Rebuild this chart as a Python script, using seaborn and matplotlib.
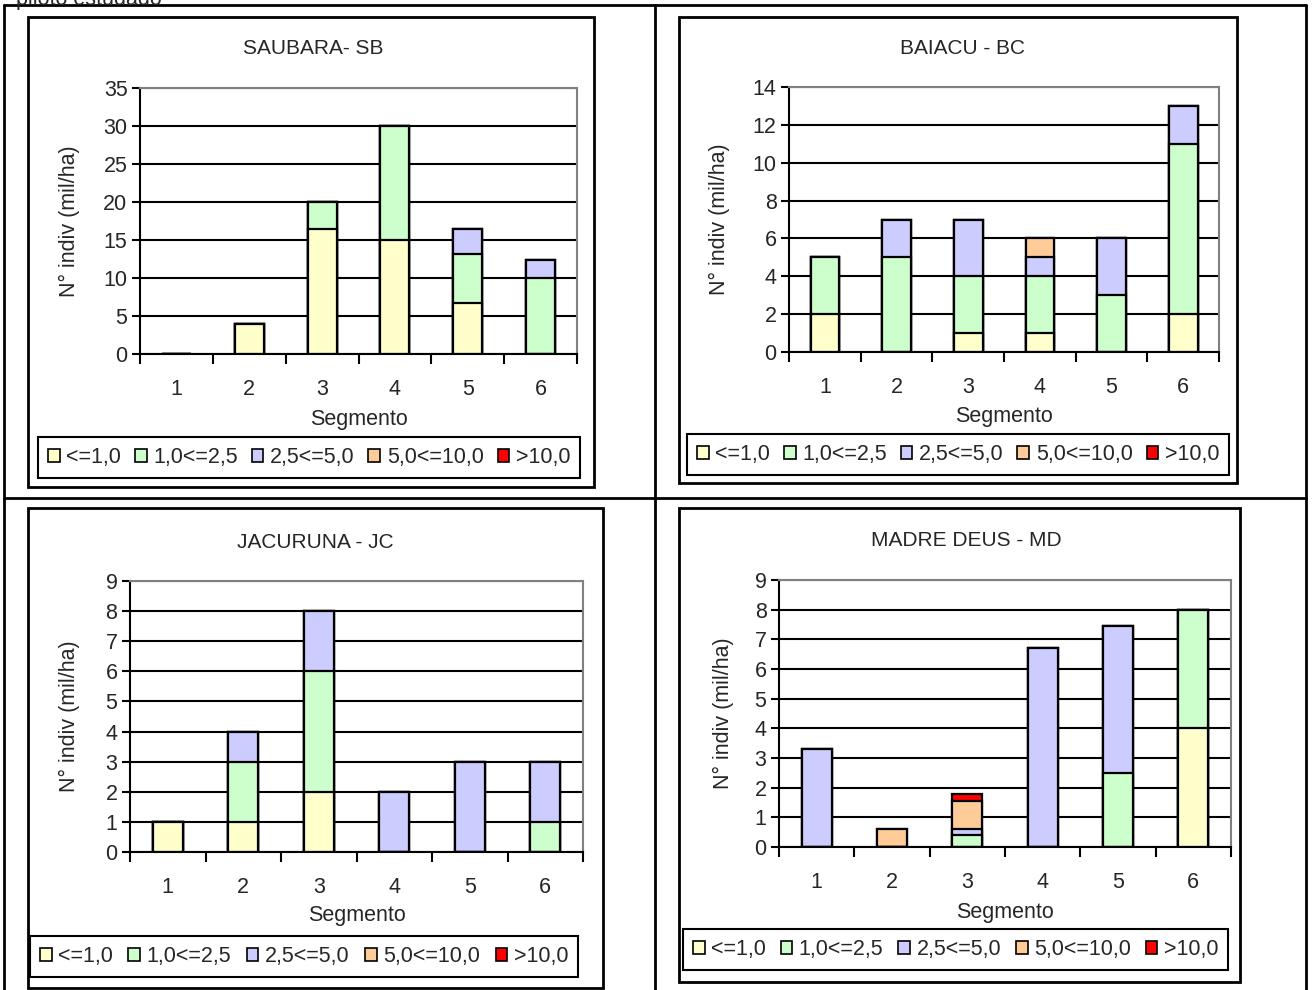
import numpy as np
import pandas as pd
import matplotlib
matplotlib.use("Agg")
import matplotlib.pyplot as plt
from matplotlib.patches import Patch, Rectangle
from matplotlib.lines import Line2D
import seaborn as sns

# categories and classes
segments = ["1", "2", "3", "4", "5", "6"]
classes = ["<=1,0", "1,0<=2,5", "2,5<=5,0", "5,0<=10,0", ">10,0"]
class_colors = ["#FFFFCC", "#CCFFCC", "#CCCCFF", "#FFCC99", "#FF0000"]

# SAUBARA - SB (mil/ha per class, segments 1..6)
sb_le1 = [0, 4, 16.4, 15, 6.7, 0]
sb_1_25 = [0, 0, 3.6, 15, 6.5, 10]
sb_25_5 = [0, 0, 0, 0, 3.3, 2.4]
sb_5_10 = [0, 0, 0, 0, 0, 0]
sb_gt10 = [0, 0, 0, 0, 0, 0]

# BAIACU - BC
bc_le1 = [2, 0, 1, 1, 0, 2]
bc_1_25 = [3, 5, 3, 3, 3, 9]
bc_25_5 = [0, 2, 3, 1, 3, 2]
bc_5_10 = [0, 0, 0, 1, 0, 0]
bc_gt10 = [0, 0, 0, 0, 0, 0]

# JACURUNA - JC
jc_le1 = [1, 1, 2, 0, 0, 0]
jc_1_25 = [0, 2, 4, 0, 0, 1]
jc_25_5 = [0, 1, 2, 2, 3, 2]
jc_5_10 = [0, 0, 0, 0, 0, 0]
jc_gt10 = [0, 0, 0, 0, 0, 0]

# MADRE DEUS - MD
md_le1 = [0, 0, 0, 0, 0, 4]
md_1_25 = [0, 0, 0.4, 0, 2.5, 4]
md_25_5 = [3.3, 0, 0.2, 6.7, 4.95, 0]
md_5_10 = [0, 0.62, 0.95, 0, 0, 0]
md_gt10 = [0, 0, 0.22, 0, 0, 0]

panels = [
    ("SAUBARA- SB", [sb_le1, sb_1_25, sb_25_5, sb_5_10, sb_gt10], 35, 5),
    ("BAIACU - BC", [bc_le1, bc_1_25, bc_25_5, bc_5_10, bc_gt10], 14, 2),
    ("JACURUNA - JC", [jc_le1, jc_1_25, jc_25_5, jc_5_10, jc_gt10], 9, 1),
    ("MADRE DEUS - MD", [md_le1, md_1_25, md_25_5, md_5_10, md_gt10], 9, 1),
]

sns.set_style("white")
plt.rcParams["font.family"] = ["Liberation Sans", "DejaVu Sans"]

FS = 15.5

W, H = 1313, 990
fig = plt.figure(figsize=(W / 100, H / 100), dpi=100)


def fx(x):
    return x / W


def fy(y):
    return 1 - y / H


# pixel layout: plot area (l, t, r, b), chart frame, title pos, legend box, label offsets
layout = [
    dict(plot=(140, 88, 577, 354), frame=(28, 17, 594, 487), title=(313, 48),
         legend=(38, 437, 580, 478), ylab=-0.137, xlab=-0.205),
    dict(plot=(789, 87, 1219, 352), frame=(679, 17, 1237, 483), title=(962, 48),
         legend=(687, 435, 1229, 474), ylab=-0.137, xlab=-0.205),
    dict(plot=(130, 581, 583, 852), frame=(28, 508, 603, 988), title=(315, 542),
         legend=(30, 936, 578, 977), ylab=-0.11, xlab=-0.195),
    dict(plot=(779, 580, 1231, 847), frame=(679, 508, 1240, 982), title=(966, 540),
         legend=(683, 929, 1228, 970), ylab=-0.10, xlab=-0.205),
]

handles = [Patch(facecolor=c, edgecolor="black", linewidth=1.2) for c in class_colors]

for (title, series, ymax, step), lay in zip(panels, layout):
    l, t, r, b = lay["plot"]
    ax = fig.add_axes([fx(l), fy(b), fx(r - l), (b - t) / H])

    df = pd.DataFrame({"segmento": segments})
    for name, vals in zip(classes, series):
        df[name] = vals
    cum = df[classes].cumsum(axis=1)

    # stacked bars: draw cumulative totals from top class down
    for name, color in zip(classes[::-1], class_colors[::-1]):
        sns.barplot(x=df["segmento"], y=cum[name], order=segments, color=color,
                    saturation=1, width=0.4, edgecolor="black", linewidth=1.6,
                    errorbar=None, ax=ax)

    ax.set_xlim(-0.5, 5.5)
    ax.set_ylim(0, ymax)
    ax.set_yticks(np.arange(0, ymax + step / 2, step))
    ax.set_axisbelow(True)
    ax.yaxis.grid(True, color="black", linewidth=1.5)
    ax.xaxis.grid(False)

    ax.set_xticks(np.arange(-0.5, 6, 1), labels=[""] * 7)
    ax.set_xticks(range(6), labels=segments, minor=True)
    ax.tick_params(axis="x", which="major", direction="out", length=7, width=1.5,
                   color="black", bottom=True)
    ax.tick_params(axis="x", which="minor", length=0, pad=18, labelsize=FS)
    ax.tick_params(axis="y", direction="out", length=6, width=1.5, color="black",
                   left=True, labelsize=FS, pad=3)

    for side in ["left", "bottom"]:
        ax.spines[side].set_color("black")
        ax.spines[side].set_linewidth(1.5)
    for side in ["top", "right"]:
        ax.spines[side].set_visible(True)
        ax.spines[side].set_color("#808080")
        ax.spines[side].set_linewidth(1.5)

    ax.set_ylabel("N° indiv (mil/ha)", fontsize=FS)
    ax.set_xlabel("Segmento", fontsize=FS, va="top")
    ax.yaxis.set_label_coords(lay["ylab"], 0.5)
    ax.xaxis.set_label_coords(0.5, lay["xlab"])

    tx, ty = lay["title"]
    fig.text(fx(tx), fy(ty), title, ha="center", va="center", fontsize=15)

    fl, ft, fr, fb = lay["frame"]
    fig.add_artist(Rectangle((fx(fl), fy(fb)), fx(fr - fl), (fb - ft) / H,
                             transform=fig.transFigure, fill=False,
                             edgecolor="black", linewidth=2))

    ll, lt, lr, lb = lay["legend"]
    leg = ax.legend(handles, classes, loc="center", ncol=5, mode="expand",
                    bbox_to_anchor=(fx(ll), fy(lb), fx(lr - ll), (lb - lt) / H),
                    bbox_transform=fig.transFigure, frameon=True, fancybox=False,
                    edgecolor="black", framealpha=1, fontsize=FS,
                    handlelength=0.55, handleheight=0.55, handletextpad=0.3,
                    columnspacing=0.35, borderpad=0.45, borderaxespad=0)
    leg.get_frame().set_linewidth(1.5)

# table lines around the four charts
for x0, y0, x1, y1 in [(4, 5, 1306, 5), (4, 498, 1306, 498), (4, 5, 4, 990),
                       (655, 5, 655, 990), (1306, 5, 1306, 990)]:
    fig.add_artist(Line2D([fx(x0), fx(x1)], [fy(y0), fy(y1)],
                          transform=fig.transFigure, color="black", linewidth=2))

fig.text(fx(16), fy(-1), "piloto estudado", ha="left", va="center", fontsize=FS)

fig.savefig("out.png", dpi=100)
